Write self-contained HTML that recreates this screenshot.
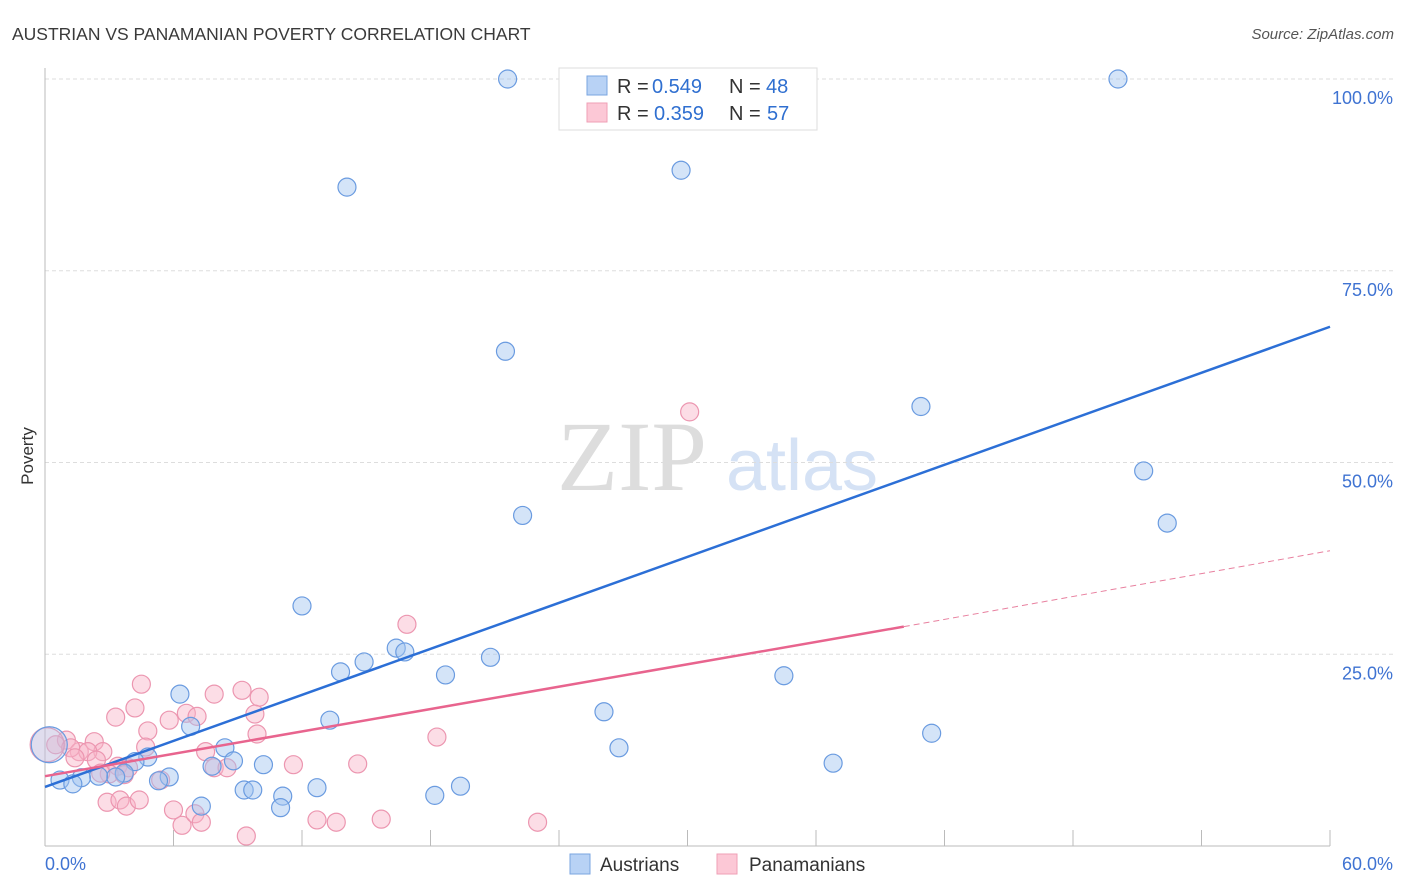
<!DOCTYPE html>
<html><head><meta charset="utf-8"><style>
body{margin:0;background:#fff;font-family:"Liberation Sans",sans-serif}
svg{display:block}
</style></head><body>
<svg id="c" width="1406" height="892" xmlns="http://www.w3.org/2000/svg">
<text x="12" y="40" font-size="17.5" fill="#3a3a3a">AUSTRIAN VS PANAMANIAN POVERTY CORRELATION CHART</text>
<text x="1394" y="39" font-size="15" fill="#555" font-style="italic" text-anchor="end">Source: ZipAtlas.com</text>
<text transform="translate(33,456) rotate(-90)" font-size="17" fill="#333" text-anchor="middle">Poverty</text>
<g>
<text x="632" y="490" font-size="100" fill="#ddd" text-anchor="middle" font-family="Liberation Serif, serif">ZIP</text>
<text x="802" y="490" font-size="72" fill="#d5e2f5" text-anchor="middle">atlas</text>
</g>
<g id="grid"></g>
<g id="axes"></g>
<g id="marks"></g>
<g>
<rect x="559" y="68" width="258" height="62" fill="#fff" stroke="#ddd"/>
<rect x="587" y="76" width="20" height="19" fill="#b8d2f5" stroke="#7aa5e0"/>
<text x="617" y="93" font-size="20" fill="#333">R =</text>
<text x="652" y="93" font-size="20" fill="#2f6fd0">0.549</text>
<text x="729" y="93" font-size="20" fill="#333">N =</text>
<text x="766" y="93" font-size="20" fill="#2f6fd0">48</text>
<rect x="587" y="103" width="20" height="19" fill="#fcc8d6" stroke="#ef9fb6"/>
<text x="617" y="120" font-size="20" fill="#333">R =</text>
<text x="654" y="120" font-size="20" fill="#2f6fd0">0.359</text>
<text x="729" y="120" font-size="20" fill="#333">N =</text>
<text x="767" y="120" font-size="20" fill="#2f6fd0">57</text>
</g>
<g>
<rect x="570" y="854" width="20" height="20" fill="#b8d2f5" stroke="#7aa5e0"/>
<text x="600" y="871" font-size="19" fill="#333">Austrians</text>
<rect x="717" y="854" width="20" height="20" fill="#fcc8d6" stroke="#ef9fb6"/>
<text x="749" y="871" font-size="19" fill="#333">Panamanians</text>
</g>
</svg>
<script>
const yTicks=[25,50,75,100];
const yTickLabels=["25.0%","50.0%","75.0%","100.0%"];
const xLabels=["0.0%","60.0%"];
const austX=[21.6,50.1,14.1,29.7,21.5,40.9,51.3,52.4,22.3,12.0,16.4,16.8,14.9,13.8,20.8,18.7,34.5,6.3,13.3,26.1,6.8,8.4,26.8,41.4,4.8,4.2,8.8,7.8,10.2,36.8,5.8,5.3,3.7,3.3,2.5,1.7,0.7,1.3,9.3,9.7,11.1,12.7,19.4,18.2,7.3,11.0,0.2];
const austY=[100,100,85.9,88.1,64.5,57.3,48.9,42.1,43.1,31.3,25.8,25.3,24.0,22.7,24.6,22.3,22.2,19.8,16.4,17.5,15.6,12.8,12.8,14.7,11.6,11.0,11.1,10.4,10.6,10.8,9.0,8.5,9.5,9.0,9.1,8.9,8.6,8.1,7.3,7.3,6.5,7.6,7.8,6.6,5.2,5.0,13.2];
const panX=[4.5,7.9,9.2,10.0,4.2,6.6,7.1,9.8,3.3,4.8,5.8,9.9,4.7,7.5,2.3,1.0,0.5,1.6,2.7,1.2,2.0,1.4,2.4,3.4,3.9,7.9,8.5,11.6,14.6,18.3,16.9,30.1,2.9,3.5,3.8,4.4,5.4,6.0,6.4,7.0,7.3,9.4,12.7,13.6,15.7,23.0,0.1,3.0,2.6,3.7];
const panY=[21.1,19.8,20.3,19.4,18.0,17.3,16.9,17.2,16.8,15.0,16.4,14.6,12.9,12.3,13.6,13.8,13.2,12.3,12.3,12.8,12.3,11.5,11.2,10.4,10.2,10.2,10.2,10.6,10.7,14.2,28.9,56.6,5.7,6.0,5.2,6.0,8.6,4.7,2.7,4.2,3.1,1.3,3.4,3.1,3.5,3.1,13.2,9.4,9.5,9.3];
const austLine=[[0,7.7],[60,67.7]];
const panLine=[[0,9.1],[40.1,28.6]];
const panDash=[[40.1,28.6],[60,38.5]];
const X=v=>45+v/60*1285, Y=v=>846-v/100*767;
const NS="http://www.w3.org/2000/svg";
function mk(t,a,p){const e=document.createElementNS(NS,t);for(const k in a)e.setAttribute(k,a[k]);p.appendChild(e);return e;}
const grid=document.getElementById('grid'),axes=document.getElementById('axes'),marks=document.getElementById('marks');
yTicks.forEach((t,i)=>{
 const l=mk('line',{x1:45,x2:1394,y1:Y(t),y2:Y(t),stroke:'#ddd','stroke-dasharray':'4,3'},grid);
 
 
 const tx=mk('text',{x:1393,y:Y(t)+25,'font-size':18,fill:'#3f73d2','text-anchor':'end'},axes);
 tx.textContent=yTickLabels[i];
 
 
});
const ax=mk('line',{x1:45,x2:45,y1:68,y2:846,stroke:'#bbb'},axes);


const bx=mk('line',{x1:45,x2:1330,y1:846,y2:846,stroke:'#bbb'},axes);


for(let k=1;k<=10;k++){const t=mk('line',{x1:X(k*6),x2:X(k*6),y1:830,y2:846,stroke:'#bbb'},axes);
 
 }
[[0,'start',45],[60,'end',1393]].forEach((d,i)=>{const t=mk('text',{x:d[2],y:870,'font-size':18,fill:'#3f73d2','text-anchor':d[1]},axes);t.textContent=xLabels[i];
 
 });
panX.forEach((x,i)=>{const big=i==46;const c=mk('circle',{cx:X(x),cy:Y(panY[i]),r:big?17:9,fill:big?'rgba(248,180,200,0.3)':'rgba(248,180,200,0.45)',stroke:'#ec96b0','stroke-width':1.2},marks);
 
 });
austX.forEach((x,i)=>{const big=i==46;const c=mk('circle',{cx:X(x),cy:Y(austY[i]),r:big?18:9,fill:big?'rgba(160,196,240,0.3)':'rgba(160,196,240,0.45)',stroke:'#6a9be0','stroke-width':1.2},marks);
 
 });
function ln(d,col,dash,name){const l=mk('line',{x1:X(d[0][0]),y1:Y(d[0][1]),x2:X(d[1][0]),y2:Y(d[1][1]),stroke:col,'stroke-width':dash?1:2.5},marks);if(dash)l.setAttribute('stroke-dasharray','6,4');
 
 }
ln(austLine,'#2c6fd6',false,'austrian-trend-line');
ln(panLine,'#e8648e',false,'panamanian-trend-line');
ln(panDash,'#e8809f',true,'panamanian-trend-extension');
</script>
</body></html>
